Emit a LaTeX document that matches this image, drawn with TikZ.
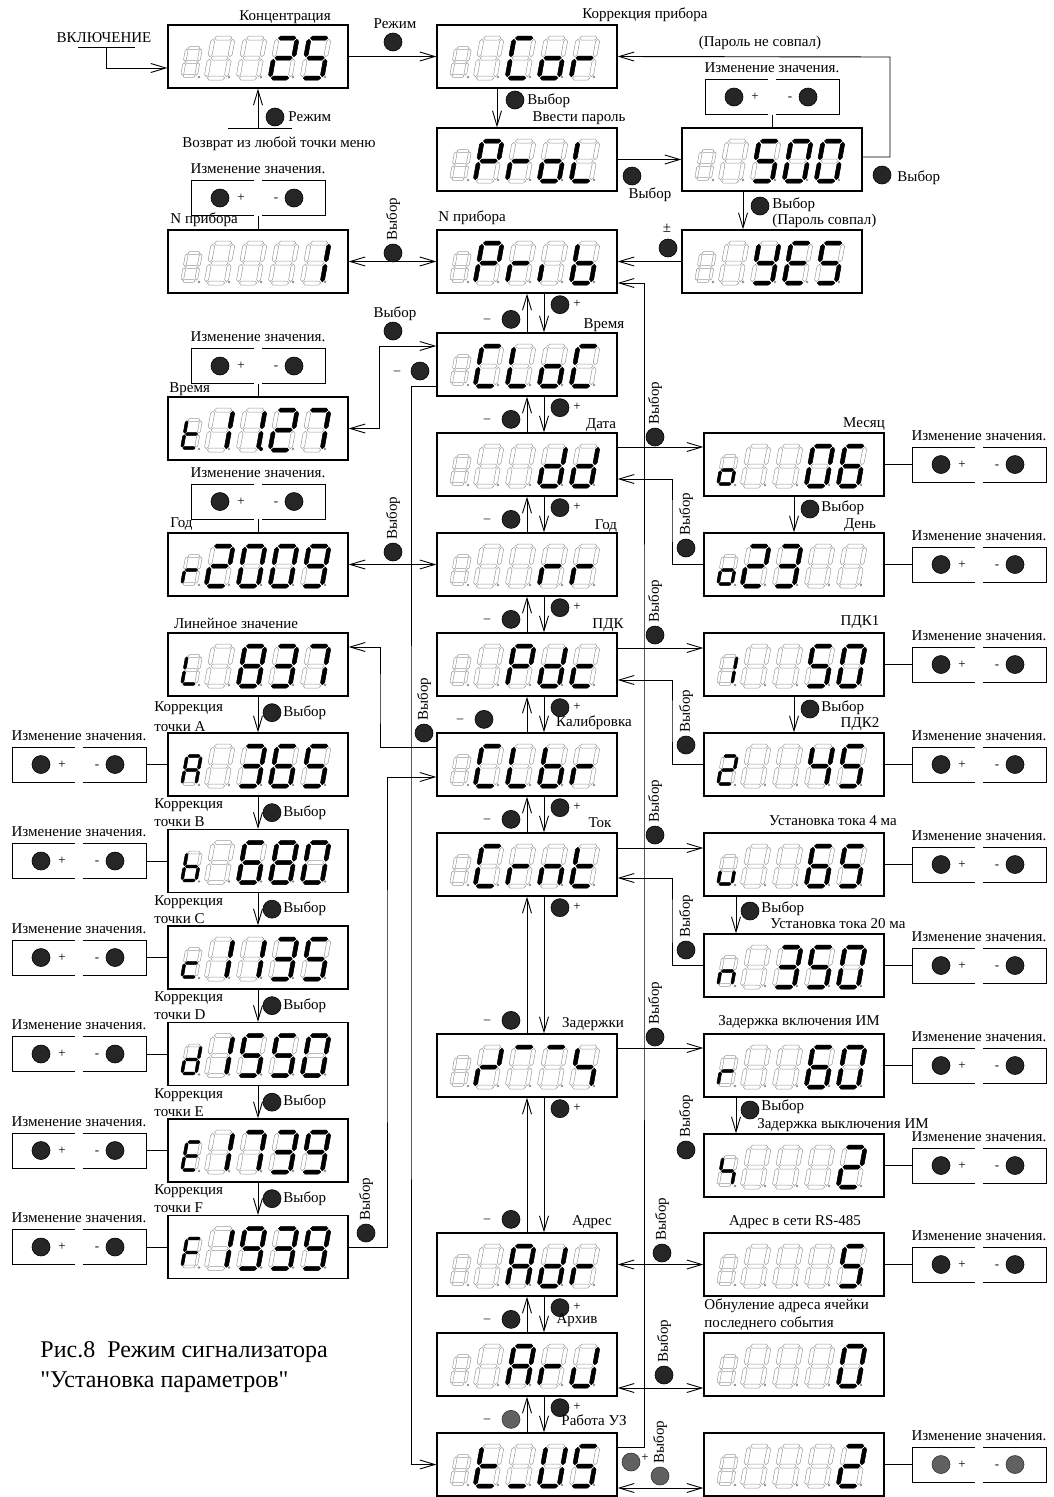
\documentclass[tikz,border=0pt]{standalone}
\usepackage{fontspec}
\setmainfont{Liberation Serif}
\usetikzlibrary{arrows.meta}

\newcommand\hseg[4]{\path[#1] (#2+1.3,#4) -- (#2+3.3,#4+2) -- (#3-3.3,#4+2) -- (#3-1.3,#4) -- (#3-3.3,#4-2) -- (#2+3.3,#4-2) -- cycle;}
\newcommand\vseg[4]{\path[#1] (#2,#3+1.3) -- (#2+2,#3+3.3) -- (#2+2,#4-3.3) -- (#2,#4-1.3) -- (#2-2,#4-3.3) -- (#2-2,#3+3.3) -- cycle;}
\newcommand\sega[1]{\hseg{#1}{0}{20}{40}}
\newcommand\segb[1]{\vseg{#1}{20}{20}{40}}
\newcommand\segc[1]{\vseg{#1}{20}{0}{20}}
\newcommand\segd[1]{\hseg{#1}{0}{20}{0}}
\newcommand\sege[1]{\vseg{#1}{0}{0}{20}}
\newcommand\segf[1]{\vseg{#1}{0}{20}{40}}
\newcommand\segg[1]{\hseg{#1}{0}{20}{20}}
\newcommand\segz[1]{}

\newcommand\sgNo{z}
\newcommand\sgZero{a,b,c,d,e,f}
\newcommand\sgOne{b,c}
\newcommand\sgTwo{a,b,g,e,d}
\newcommand\sgThree{a,b,g,c,d}
\newcommand\sgFour{f,g,b,c}
\newcommand\sgFive{a,f,g,c,d}
\newcommand\sgSix{a,f,g,e,c,d}
\newcommand\sgSeven{a,b,c}
\newcommand\sgEight{a,b,c,d,e,f,g}
\newcommand\sgNine{a,b,c,d,f,g}
\newcommand\sgA{a,b,c,e,f,g}
\newcommand\sgb{f,e,g,c,d}
\newcommand\sgC{a,f,e,d}
\newcommand\sgc{g,e,d}
\newcommand\sgd{b,c,g,e,d}
\newcommand\sgE{a,f,g,e,d}
\newcommand\sgF{a,f,g,e}
\newcommand\sgL{f,e,d}
\newcommand\sgn{e,g,c}
\newcommand\sgo{g,c,d,e}
\newcommand\sgP{a,b,f,g,e}
\newcommand\sgr{e,g}
\newcommand\sgt{f,e,g,d}
\newcommand\sgu{e,d,c}
\newcommand\sgU{f,e,d,c,b}
\newcommand\sgY{f,g,b,c,d}
\newcommand\sgi{e}
\newcommand\sgJ{b,c,d,e}
\newcommand\sglow{d}
\newcommand\sgtop{a}
\newcommand\sgh{f,g,c}
\newcommand\sgzd{b,g,e}

\newcommand\sevdig[3]{%
\begin{scope}[shift={#1},x=#2pt,y=#2pt,xslant=0.18]
\foreach \s in {a,b,c,d,e,f,g}{\csname seg\s\endcsname{dimseg}}
\foreach \s in #3{\csname seg\s\endcsname{litseg}}
\end{scope}}

\newcommand\sevdisp[8]{%
\node[disp] (#1) at (#2+90,#3+31.5) {};
\sevdig{(#2+14,#3+51)}{0.7}{#4}
\sevdig{(#2+38,#3+53)}{1}{#5}
\sevdig{(#2+70,#3+53)}{1}{#6}
\sevdig{(#2+102,#3+53)}{1}{#7}
\sevdig{(#2+134,#3+53)}{1}{#8}
\foreach \dx in {31,61,93,125,157}{\fill[dimdot] (#2+\dx,#3+52) circle (1.3);}}

\newcommand\chgbox[4]{%
\node[lbl] (#1-t) at (#2,#3-29) {Изменение значения.};
\draw[thin] (#2-4,#3-17.5) -- (#2-67,#3-17.5) -- (#2-67,#3+17.5) -- (#2-4,#3+17.5);
\draw[thin] (#2+4,#3-17.5) -- (#2+67,#3-17.5) -- (#2+67,#3+17.5) -- (#2+4,#3+17.5);
\node[#4] (#1-p) at (#2-38,#3) {};
\node[sym] (#1-ps) at (#2-17,#3) {+};
\node[sym] (#1-ms) at (#2+18,#3) {-};
\node[#4] (#1-m) at (#2+36,#3) {};
\coordinate (#1-n) at (#2,#3-17.5);
\coordinate (#1-s) at (#2,#3+17.5);
\coordinate (#1-w) at (#2-67,#3);
\coordinate (#1-e) at (#2+67,#3);}

\begin{document}
\begin{tikzpicture}[x=1pt,y=-1pt,line width=0.9pt,
disp/.style={draw,line width=1.3pt,minimum width=180pt,minimum height=63pt,inner sep=0pt},
dimseg/.style={draw=black!40,line width=0.5pt},
litseg/.style={fill=black,draw=black,line width=0.5pt},
dimdot/.style={black!45},
btn/.style={circle,fill=black!85,draw=black,line width=0.6pt,minimum size=18pt,inner sep=0pt},
btng/.style={circle,fill=black!62,draw=black!80,line width=0.6pt,minimum size=18pt,inner sep=0pt},
lbl/.style={font=\fontsize{15}{17}\selectfont,inner sep=0pt},
sym/.style={font=\fontsize{13}{15}\selectfont,inner sep=0pt,text height=7pt,text depth=0pt},
vlbl/.style={lbl,rotate=90,anchor=west},
figcap/.style={font=\fontsize{24}{28}\selectfont,inner sep=0pt},
arr/.style={-{Straight Barb[length=15pt,width=9pt]}},
darr/.style={{Straight Barb[length=15pt,width=9pt]}-{Straight Barb[length=15pt,width=9pt]}}]
\useasboundingbox (0,0) rectangle (1053,1497);

\sevdisp{conc}{168}{25}{\sgNo}{\sgNo}{\sgNo}{\sgTwo}{\sgFive}
\sevdisp{cor}{437}{25}{\sgNo}{\sgNo}{\sgC}{\sgo}{\sgr}
\sevdisp{prol}{437}{128}{\sgNo}{\sgP}{\sgr}{\sgo}{\sgL}
\sevdisp{pass}{682}{128}{\sgNo}{\sgNo}{\sgFive}{\sgZero}{\sgZero}
\sevdisp{yes}{682}{230}{\sgNo}{\sgNo}{\sgY}{\sgE}{\sgFive}
\sevdisp{prib}{437}{230}{\sgNo}{\sgP}{\sgr}{\sgi}{\sgb}
\sevdisp{nbox}{168}{230}{\sgNo}{\sgNo}{\sgNo}{\sgNo}{\sgOne}
\sevdisp{cloc}{437}{333}{\sgNo}{\sgC}{\sgL}{\sgo}{\sgC}
\sevdisp{time}{168}{397}{\sgt}{\sgOne}{\sgOne}{\sgTwo}{\sgSeven}
\sevdisp{dd}{437}{433}{\sgNo}{\sgNo}{\sgNo}{\sgd}{\sgd}
\sevdisp{mon}{704}{433}{\sgo}{\sgNo}{\sgNo}{\sgZero}{\sgSix}
\sevdisp{day}{704}{533}{\sgo}{\sgTwo}{\sgThree}{\sgNo}{\sgNo}
\sevdisp{rr}{437}{533}{\sgNo}{\sgNo}{\sgNo}{\sgr}{\sgr}
\sevdisp{year}{168}{533}{\sgr}{\sgTwo}{\sgZero}{\sgZero}{\sgNine}
\sevdisp{pdc}{437}{633}{\sgNo}{\sgNo}{\sgP}{\sgd}{\sgc}
\sevdisp{pdka}{704}{633}{\sgOne}{\sgNo}{\sgNo}{\sgFive}{\sgZero}
\sevdisp{pdkb}{704}{733}{\sgTwo}{\sgNo}{\sgNo}{\sgFour}{\sgFive}
\sevdisp{lin}{168}{633}{\sgL}{\sgNo}{\sgEight}{\sgThree}{\sgSeven}
\sevdisp{clbr}{437}{733}{\sgNo}{\sgC}{\sgL}{\sgb}{\sgr}
\sevdisp{pta}{168}{733}{\sgA}{\sgNo}{\sgThree}{\sgSix}{\sgFive}
\sevdisp{ptb}{168}{829.5}{\sgb}{\sgNo}{\sgSix}{\sgEight}{\sgZero}
\sevdisp{ptc}{168}{926}{\sgc}{\sgOne}{\sgOne}{\sgThree}{\sgFive}
\sevdisp{ptd}{168}{1022.5}{\sgd}{\sgOne}{\sgFive}{\sgFive}{\sgZero}
\sevdisp{pte}{168}{1119}{\sgE}{\sgOne}{\sgSeven}{\sgThree}{\sgNine}
\sevdisp{ptf}{168}{1215.5}{\sgF}{\sgOne}{\sgNine}{\sgThree}{\sgNine}
\sevdisp{crnt}{437}{833}{\sgNo}{\sgC}{\sgr}{\sgn}{\sgt}
\sevdisp{maa}{704}{833}{\sgu}{\sgNo}{\sgNo}{\sgSix}{\sgFive}
\sevdisp{mab}{704}{934}{\sgn}{\sgNo}{\sgThree}{\sgFive}{\sgZero}
\sevdisp{zad}{437}{1034}{\sgNo}{\sgzd}{\sgtop}{\sgtop}{\sgh}
\sevdisp{zon}{704}{1034}{\sgr}{\sgNo}{\sgNo}{\sgSix}{\sgZero}
\sevdisp{zoff}{704}{1134}{\sgh}{\sgNo}{\sgNo}{\sgNo}{\sgTwo}
\sevdisp{adr}{437}{1233}{\sgNo}{\sgNo}{\sgA}{\sgd}{\sgr}
\sevdisp{rs}{704}{1233}{\sgNo}{\sgNo}{\sgNo}{\sgNo}{\sgFive}
\sevdisp{arv}{437}{1333}{\sgNo}{\sgNo}{\sgA}{\sgr}{\sgJ}
\sevdisp{zero}{704}{1333}{\sgNo}{\sgNo}{\sgNo}{\sgNo}{\sgZero}
\sevdisp{tus}{437}{1433}{\sgNo}{\sgt}{\sglow}{\sgU}{\sgFive}
\sevdisp{uz}{704}{1433}{\sgNo}{\sgNo}{\sgNo}{\sgNo}{\sgTwo}
\fill (261,449) circle (2);

\node[lbl] (vkl) at (104,38) {ВКЛЮЧЕНИЕ};
\coordinate (vkla) at (78,47);
\coordinate (vklb) at (135,47);
\coordinate (vklm) at (106,47);
\draw (vkla) -- (vklb);
\draw[arr] (vklm) |- ([yshift=-11.5pt]conc.west);
\node[lbl] (concl) at (285,17) {Концентрация};
\coordinate (reta) at (228,128);
\coordinate (retb) at (292,128);
\coordinate (retm) at (258,128);
\draw (reta) -- (retb);
\draw[arr] (retm) -- (conc.south);
\node[btn] (retbtn) at (275,117) {};
\node[lbl,anchor=west] (retsel) at (288,117) {Режим};
\node[lbl] (retl) at (279,144) {Возврат из любой точки меню};
\draw[arr] (conc.east) -- (cor.west);
\node[btn] (regbtn) at (393,42) {};
\node[lbl] (regl) at (395,24) {Режим};

\node[lbl] (corl) at (645,15) {Коррекция прибора};
\draw[arr] ([xshift=-30pt]cor.south) -- ([xshift=-30pt]prol.north);
\node[btn] (corbtn) at (515,100) {};
\node[lbl,anchor=west] (corsel) at (527,101) {Выбор};
\node[lbl] (proll) at (579,118) {Ввести пароль};
\draw[arr] (prol.east) -- (pass.west);
\node[btn] (prolbtn) at (632,176) {};
\node[lbl] (prolsel) at (650,195) {Выбор};
\chgbox{chp}{772}{97}{btn}
\draw (chp-s) -- (pass.north);
\coordinate (nomatch) at (890,57);
\draw[arr] ([yshift=2.5pt]pass.east) -| (nomatch) -- (cor.east);
\node[lbl] (nomatchl) at (760,43) {(Пароль не совпал)};
\node[btn] (passbtn) at (882,175) {};
\node[lbl,anchor=west] (passsel) at (897,178) {Выбор};
\draw[arr] ([xshift=-29pt]pass.south) -- ([xshift=-29pt]yes.north);
\node[btn] (yesbtn) at (760,206) {};
\node[lbl,anchor=west] (yessel) at (772,205) {Выбор};
\node[lbl,anchor=west] (matchl) at (772,221) {(Пароль совпал)};
\draw[arr] (yes.west) -- (prib.east);
\node[btn] (pmbtn) at (668,248) {};
\node[lbl] (pml) at (667,228) {±};

\node[lbl,anchor=west] (pribl) at (438,218) {N прибора};
\node[lbl,anchor=west] (nboxl) at (170,220) {N прибора};
\chgbox{chn}{258}{198}{btn}
\draw (chn-s) -- (nbox.north);
\draw[darr] (nbox.east) -- (prib.west);
\node[btn] (nbtn) at (393,253) {};
\node[vlbl] (nsel) at (393,241) {Выбор};

\foreach \up/\lo/\mx/\sx/\st in {prib/cloc/-16/-40/btn,cloc/dd/-16/-40/btn,dd/rr/-16/-40/btn,rr/pdc/-16/-40/btn,pdc/clbr/-43/-67/btn,clbr/crnt/-16/-40/btn,crnt/zad/-16/-40/btn,zad/adr/-16/-40/btn,adr/arv/-16/-40/btn,arv/tus/-16/-40/btng}{
\draw[arr] (\lo.north) -- (\up.south);
\draw[arr] ([xshift=17pt]\up.south) -- ([xshift=17pt]\lo.north);
\node[btn] (p\up) at ([xshift=33pt,yshift=-11pt]\up.south) {};
\node[sym] (ps\up) at ([xshift=50pt,yshift=-10pt]\up.south) {+};
\node[\st] (m\lo) at ([xshift=\mx pt,yshift=13pt]\lo.north) {};
\node[sym] (ms\lo) at ([xshift=\sx pt,yshift=13pt]\lo.north) {–};
}

\node[lbl] (clocl) at (604,325) {Время};
\node[lbl,anchor=west] (timel) at (169,389) {Время};
\chgbox{cht}{258}{366}{btn}
\draw (cht-s) -- (time.north);
\coordinate (tbend) at (379,346);
\draw[darr] (time.east) -| (tbend) -- ([yshift=18.5pt]cloc.west);
\node[btn] (tbtn) at (393,331) {};
\node[lbl] (tsel) at (395,314) {Выбор};
\coordinate (wrapl) at (411,900);
\draw[arr] ([yshift=-21.5pt]cloc.west) -| (wrapl) |- (tus.west);
\node[btn] (wbtn) at (420,371) {};
\node[sym] (wsym) at (397,371) {–};

\node[lbl] (ddl) at (601,425) {Дата};
\draw[arr] ([yshift=17.5pt]dd.east) -- ([yshift=17.5pt]mon.west);
\node[btn] (ddbtn) at (655,437) {};
\node[vlbl] (ddsel) at (655,425) {Выбор};
\coordinate (dbend) at (672,520);
\draw[arr] (day.west) -| (dbend) |- ([yshift=-14.5pt]dd.east);
\node[btn] (daybtn) at (686,548) {};
\node[vlbl] (daysel) at (686,536) {Выбор};
\node[lbl] (monl) at (864,424) {Месяц};
\draw[arr] (mon.south) -- (day.north);
\node[btn] (monbtn) at (810,509) {};
\node[lbl,anchor=west] (monsel) at (821,508) {Выбор};
\node[lbl] (dayl) at (860,525) {День};
\chgbox{chm}{979}{464.5}{btn}
\draw (mon.east) -- (chm-w);
\chgbox{chd}{979}{564.5}{btn}
\draw (day.east) -- (chd-w);

\node[lbl] (rrl) at (606,526) {Год};
\node[lbl,anchor=west] (yearl) at (170,524) {Год};
\chgbox{chy}{258}{501.5}{btn}
\draw (chy-s) -- (year.north);
\draw[darr] (year.east) -- (rr.west);
\node[btn] (ybtn) at (393,552) {};
\node[vlbl] (ysel) at (393,540) {Выбор};

\node[lbl] (pdcl) at (608,625) {ПДК};
\draw[arr] ([yshift=16.5pt]pdc.east) -- ([yshift=16.5pt]pdka.west);
\node[btn] (pdcbtn) at (655,635) {};
\node[vlbl] (pdcsel) at (655,623) {Выбор};
\coordinate (pbend) at (672,720);
\draw[arr] (pdkb.west) -| (pbend) |- ([yshift=-15.5pt]pdc.east);
\node[btn] (pdkbbtn) at (686,745) {};
\node[vlbl] (pdkbsel) at (686,733) {Выбор};
\node[lbl] (pdkal) at (860,622) {ПДК1};
\draw[arr] (pdka.south) -- (pdkb.north);
\node[btn] (pdkabtn) at (810,709) {};
\node[lbl,anchor=west] (pdkasel) at (821,708) {Выбор};
\node[lbl] (pdkbl) at (860,724) {ПДК2};
\chgbox{chpa}{979}{664.5}{btn}
\draw (pdka.east) -- (chpa-w);
\chgbox{chpb}{979}{764.5}{btn}
\draw (pdkb.east) -- (chpb-w);

\node[lbl] (linl) at (236,623) {Линейное значение};
\coordinate (lbend) at (380,700);
\draw[arr] ([yshift=17.5pt]clbr.west) -| (lbend) |- ([yshift=17.5pt]lin.east);
\node[btn] (clbrbtn) at (424,733) {};
\node[vlbl] (clbrsel) at (424,721) {Выбор};
\node[lbl] (clbrl) at (594,723) {Калибровка};
\coordinate (fbend) at (387,1000);
\draw[arr] (ptf.east) -| (fbend) |- ([yshift=-12.5pt]clbr.west);
\node[btn] (ptfbtn) at (366,1233) {};
\node[vlbl] (ptfsel) at (366,1221) {Выбор};

\foreach \up/\lo/\ptn/\ka/\kb in {lin/pta/A/-12/-30,pta/ptb/B/-9/-25,ptb/ptc/C/-9/-25,ptc/ptd/D/-9/-25,ptd/pte/E/-9/-25,pte/ptf/F/-9/-25}{
\draw[arr] (\up.south) -- (\lo.north);
\node[btn] (b\lo) at ([xshift=14pt,yshift=-16pt]\up.south) {};
\node[lbl,anchor=west] (s\lo) at ([xshift=25pt,yshift=-16pt]\up.south) {Выбор};
\node[lbl,anchor=west] (k\lo) at ([xshift=-104pt,yshift=\ka pt]\up.south) {Коррекция};
\node[lbl,anchor=west] (q\lo) at ([xshift=-104pt,yshift=\kb pt]\up.south) {точки \ptn};
}
\foreach \n/\y in {pta/764.5,ptb/861,ptc/957.5,ptd/1054,pte/1150.5,ptf/1247}{
\chgbox{ch\n}{79}{\y}{btn}
\draw (ch\n-e) -- (\n.west);
}

\node[lbl] (crntl) at (600,823) {Ток};
\draw[arr] ([yshift=16.5pt]crnt.east) -- ([yshift=16.5pt]maa.west);
\node[btn] (crntbtn) at (655,835) {};
\node[vlbl] (crntsel) at (655,823) {Выбор};
\coordinate (cbend) at (672,920);
\draw[arr] (mab.west) -| (cbend) |- ([yshift=-13.5pt]crnt.east);
\node[btn] (mabbtn) at (686,950) {};
\node[vlbl] (mabsel) at (686,938) {Выбор};
\node[lbl] (maal) at (833,821) {Установка тока 4 ма};
\draw[arr] ([xshift=-58pt]maa.south) -- ([xshift=-58pt]mab.north);
\node[btn] (maabtn) at (750,911) {};
\node[lbl,anchor=west] (maasel) at (761,909) {Выбор};
\node[lbl] (mabl) at (838,924) {Установка тока 20 ма};
\chgbox{chma}{979}{864.5}{btn}
\draw (maa.east) -- (chma-w);
\chgbox{chmb}{979}{965.5}{btn}
\draw (mab.east) -- (chmb-w);

\node[lbl] (zadl) at (593,1024) {Задержки};
\draw[arr] ([yshift=17.5pt]zad.east) -- ([yshift=17.5pt]zon.west);
\node[btn] (zadbtn) at (655,1037) {};
\node[vlbl] (zadsel) at (655,1025) {Выбор};
\node[btn] (zoffbtn) at (686,1150) {};
\node[vlbl] (zoffsel) at (686,1138) {Выбор};
\node[lbl] (zonl) at (799,1022) {Задержка включения ИМ};
\draw[arr] ([xshift=-58pt]zon.south) -- ([xshift=-58pt]zoff.north);
\node[btn] (zonbtn) at (750,1110) {};
\node[lbl,anchor=west] (zonsel) at (761,1107) {Выбор};
\node[lbl] (zoffl) at (843,1125) {Задержка выключения ИМ};
\chgbox{chza}{979}{1065.5}{btn}
\draw (zon.east) -- (chza-w);
\chgbox{chzb}{979}{1165.5}{btn}
\draw (zoff.east) -- (chzb-w);

\node[lbl] (adrl) at (592,1222) {Адрес};
\draw[darr] (adr.east) -- (rs.west);
\node[btn] (adrbtn) at (662,1253) {};
\node[vlbl] (adrsel) at (662,1241) {Выбор};
\node[lbl] (rsl) at (795,1222) {Адрес в сети RS-485};
\chgbox{chrs}{979}{1264.5}{btn}
\draw (rs.east) -- (chrs-w);
\node[lbl] (arvl) at (577,1320) {Архив};
\draw[darr] ([yshift=-23.5pt]arv.east) -- ([yshift=-23.5pt]zero.west);
\node[btn] (arvbtn) at (664,1375) {};
\node[vlbl] (arvsel) at (664,1363) {Выбор};
\node[lbl,anchor=west] (zerol) at (704,1306) {Обнуление адреса ячейки};
\node[lbl,anchor=west] (zerolb) at (704,1324) {последнего события};
\node[lbl] (tusl) at (594,1420) {Работа УЗ};
\draw[darr] ([yshift=-23.5pt]tus.east) -- ([yshift=-23.5pt]uz.west);
\node[btng] (tusbtn) at (660,1476) {};
\node[vlbl] (tussel) at (660,1464) {Выбор};
\node[btng] (tuspbtn) at (631,1462) {};
\node[sym] (tusps) at (645,1458) {+};
\chgbox{chuz}{979}{1464.5}{btng}
\draw (uz.east) -- (chuz-w);
\coordinate (wrapr) at (644,800);
\draw[arr] ([yshift=17.5pt]tus.east) -| (wrapr) |- ([yshift=-21.5pt]prib.east);

\node[figcap,anchor=west] (capa) at (40,1352) {Рис.8\ \ Режим сигнализатора};
\node[figcap,anchor=west] (capb) at (40,1382) {\textquotedbl Установка параметров\textquotedbl};
\end{tikzpicture}
\end{document}
